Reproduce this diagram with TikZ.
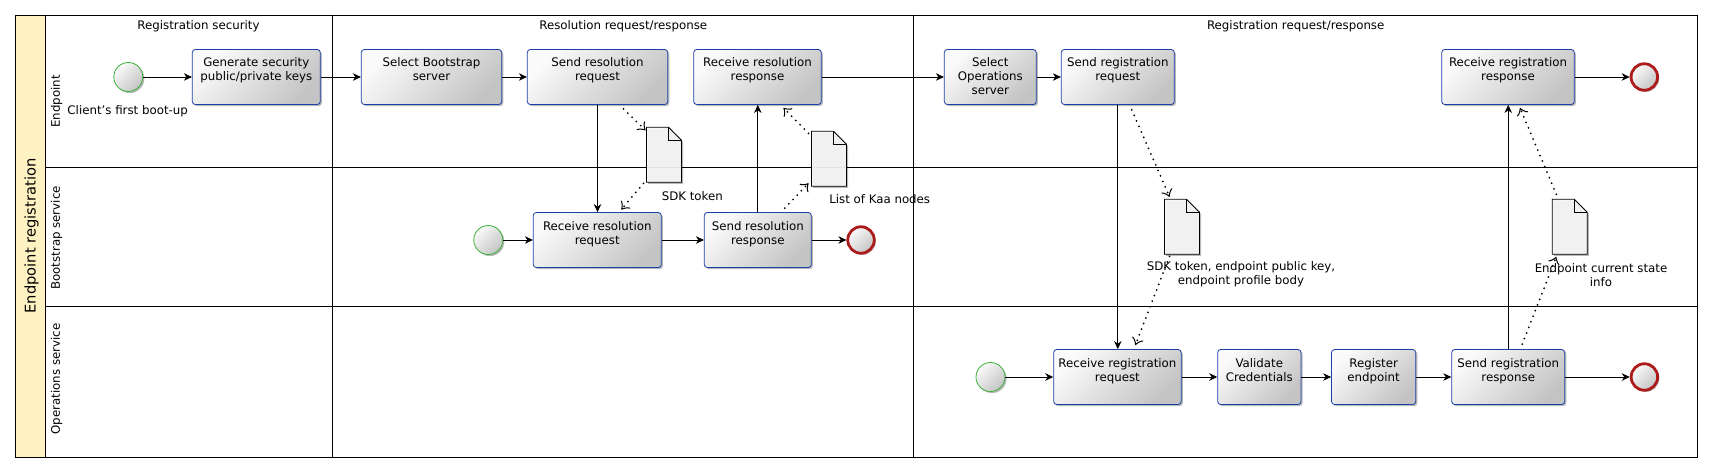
\documentclass[tikz,border=0pt]{standalone}
\usepackage{fontspec}
\setmainfont{DejaVu Sans}
\usetikzlibrary{arrows.meta,shadows}
\definecolor{taskblue}{RGB}{28,64,168}
\definecolor{startgreen}{RGB}{58,178,58}
\definecolor{endred}{RGB}{172,26,26}
\definecolor{poolyellow}{RGB}{255,242,194}
\definecolor{shadelight}{RGB}{250,250,250}
\definecolor{shadedark}{RGB}{196,196,196}
\definecolor{docfill}{RGB}{247,247,247}
\newcommand\tasklines[1]{\begin{tabular}[t]{@{}c@{}}#1\end{tabular}}
\newcommand\dataobj[2]{%
  \node[docph] (#1) at (#2) {};
  \path[docshape] (#1.north west) -- ([xshift=-13pt]#1.north east)
     -- ([yshift=-13pt]#1.north east) -- (#1.south east) -- (#1.south west) -- cycle;
  \draw[line width=0.8pt] ([xshift=-13pt]#1.north east) |- ([yshift=-13pt]#1.north east);
}
\tikzset{
  basefont/.style={font=\fontsize{11.8}{14}\selectfont},
  softshadow/.style={drop shadow={shadow xshift=1.6pt,shadow yshift=-1.6pt,opacity=0.28,fill=black}},
  task/.style={rectangle, rounded corners=3pt, draw=taskblue, line width=0.8pt,
    top color=shadelight, bottom color=shadedark, shading angle=45,
    minimum height=55pt, inner xsep=2pt, inner ysep=0pt,
    text height=17.5pt, text depth=37.5pt, softshadow, basefont},
  startev/.style={circle, draw=startgreen, line width=0.8pt, minimum size=29pt, inner sep=0pt,
    top color=shadelight, bottom color=shadedark, shading angle=45, softshadow},
  endev/.style={circle, draw=endred, line width=2.8pt, minimum size=26.5pt, inner sep=0pt,
    top color=shadelight, bottom color=shadedark, shading angle=45, softshadow},
  docph/.style={rectangle, minimum width=35pt, minimum height=55pt, inner sep=0pt, outer sep=0pt},
  docshape/.style={draw, line width=0.8pt, fill=docfill, fill opacity=0.92, softshadow},
  flow/.style={draw, line width=0.8pt, -{Stealth[length=8pt,width=7.5pt,inset=2.5pt]}},
  assoc/.style={draw, line width=2pt, line cap=round, dash pattern=on 0pt off 6pt,
    -{Classical TikZ Rightarrow[line width=1pt,length=7pt,width=12pt]}},
  lbl/.style={basefont, inner sep=0pt, align=center},
  lanelbl/.style={basefont, inner sep=0pt, rotate=90},
  poolline/.style={line width=0.8pt},
}
\begin{document}
\begin{tikzpicture}[x=1pt,y=-1pt]
\useasboundingbox (0,0) rectangle (1713,473);
% pool frame
\fill[poolyellow] (15,15) rectangle (45,457);
\draw[poolline] (15,15) rectangle (1697,457);
\draw[poolline] (45,15) -- (45,457);
\draw[poolline] (45,167.5) -- (1697,167.5);
\draw[poolline] (45,306) -- (1697,306);
\draw[poolline] (332,15) -- (332,457);
\draw[poolline] (913,15) -- (913,457);
\node[inner sep=0pt, rotate=90, font=\fontsize{14.7}{17}\selectfont] (pool) at (31.5,236) {Endpoint registration};
\node[lanelbl] (lane1) at (56.7,101.5) {Endpoint};
\node[lanelbl] (lane2) at (56.7,238) {Bootstrap service};
\node[lanelbl] (lane3) at (56.7,379) {Operations service};
% column titles
\node[lbl] (t1) at (198.5,26.7) {Registration security};
\node[lbl] (t2) at (623.3,26.7) {Resolution request/response};
\node[lbl] (t3) at (1295.7,26.7) {Registration request/response};
% events
\node[startev] (s1) at (128.3,77) {};
\node[lbl] (s1l) at (127.7,111.7) {Client's first boot-up};
\node[startev] (s2) at (488.3,240) {};
\node[endev] (e2) at (861,240) {};
\node[endev] (e1) at (1644.3,77) {};
\node[startev] (s3) at (990.5,377) {};
\node[endev] (e3) at (1644.4,377) {};
% tasks, endpoint lane
\node[task, minimum width=128pt] (gen) at (256.3,77) {\tasklines{Generate security\\public/private keys}};
\node[task, minimum width=140.4pt] (selb) at (431.5,77) {\tasklines{Select Bootstrap\\server}};
\node[task, minimum width=140.4pt] (sreq) at (597.5,77) {\tasklines{Send resolution\\request}};
\node[task, minimum width=127.6pt] (rresp) at (757.5,77) {\tasklines{Receive resolution\\response}};
\node[task, minimum width=92pt] (selo) at (990.3,77) {\tasklines{Select\\Operations\\server}};
\node[task, minimum width=113pt] (sreg) at (1117.8,77) {\tasklines{Send registration\\request}};
\node[task, minimum width=132.6pt] (rreg) at (1508,77) {\tasklines{Receive registration\\response}};
% tasks, bootstrap lane
\node[task, minimum width=128pt] (rreq) at (597.3,240) {\tasklines{Receive resolution\\request}};
\node[task, minimum width=107pt] (sresp) at (757.8,240) {\tasklines{Send resolution\\response}};
% tasks, operations lane
\node[task, minimum width=127.5pt] (rregq) at (1117.4,377) {\tasklines{Receive registration\\request}};
\node[task, minimum width=83.3pt] (val) at (1259.3,377) {\tasklines{Validate\\Credentials}};
\node[task, minimum width=84.2pt] (regep) at (1373.6,377) {\tasklines{Register\\endpoint}};
\node[task, minimum width=113pt] (sregr) at (1508.2,377) {\tasklines{Send registration\\response}};
% data objects
\dataobj{d1}{664,154.8}
\dataobj{d2}{829,158.8}
\dataobj{d3}{1182,226.8}
\dataobj{d4}{1569.8,226.8}
\node[lbl] (d1l) at (692.3,195.7) {SDK token};
\node[lbl] (d2l) at (879.7,199) {List of Kaa nodes};
\node[lbl] (d3l) at (1241,274.7) {SDK token, endpoint public key,\\endpoint profile body};
\node[lbl] (d4l) at (1601,274.7) {Endpoint current state\\info};
% sequence flows
\draw[flow] (s1) -- (gen);
\draw[flow] (gen) -- (selb);
\draw[flow] (selb) -- (sreq);
\draw[flow] (sreq.south) -- (sreq.south |- rreq.north);
\draw[flow] (s2) -- (rreq);
\draw[flow] (rreq) -- (sresp);
\draw[flow] (sresp) -- (e2);
\draw[flow] (sresp.north) -- (sresp.north |- rresp.south);
\draw[flow] (rresp) -- (selo);
\draw[flow] (selo) -- (sreg);
\draw[flow] (sreg.south) -- (sreg.south |- rregq.north);
\draw[flow] (rreg) -- (e1);
\draw[flow] (s3) -- (rregq);
\draw[flow] (rregq) -- (val);
\draw[flow] (val) -- (regep);
\draw[flow] (regep) -- (sregr);
\draw[flow] (sregr) -- (e3);
\draw[flow] (sregr.north) -- (sregr.north |- rreg.south);
% data associations
\draw[assoc] ([xshift=26pt,yshift=-4pt]sreq.south) -- ([xshift=-1pt,yshift=-3pt]d1.north west);
\draw[assoc] ([xshift=-3pt,yshift=-1pt]d1.south west) -- ([xshift=24pt,yshift=2.5pt]rreq.north);
\draw[assoc] ([xshift=27pt,yshift=4pt]sresp.north) -- ([xshift=-3pt,yshift=3pt]d2.south west);
\draw[assoc] ([xshift=-3pt,yshift=-2pt]d2.north west) -- ([xshift=26pt,yshift=-3pt]rresp.south);
\draw[assoc] ([xshift=14pt,yshift=-5pt]sreg.south) -- ([xshift=5pt,yshift=2.5pt]d3.north west);
\draw[assoc] ([xshift=5pt,yshift=-2pt]d3.south west) -- ([xshift=18pt,yshift=4pt]rregq.north);
\draw[assoc] ([xshift=14pt,yshift=5pt]sregr.north) -- ([xshift=4pt,yshift=-2.5pt]d4.south west);
\draw[assoc] ([xshift=4pt,yshift=5pt]d4.north west) -- ([xshift=12pt,yshift=-3pt]rreg.south);
\end{tikzpicture}
\end{document}
